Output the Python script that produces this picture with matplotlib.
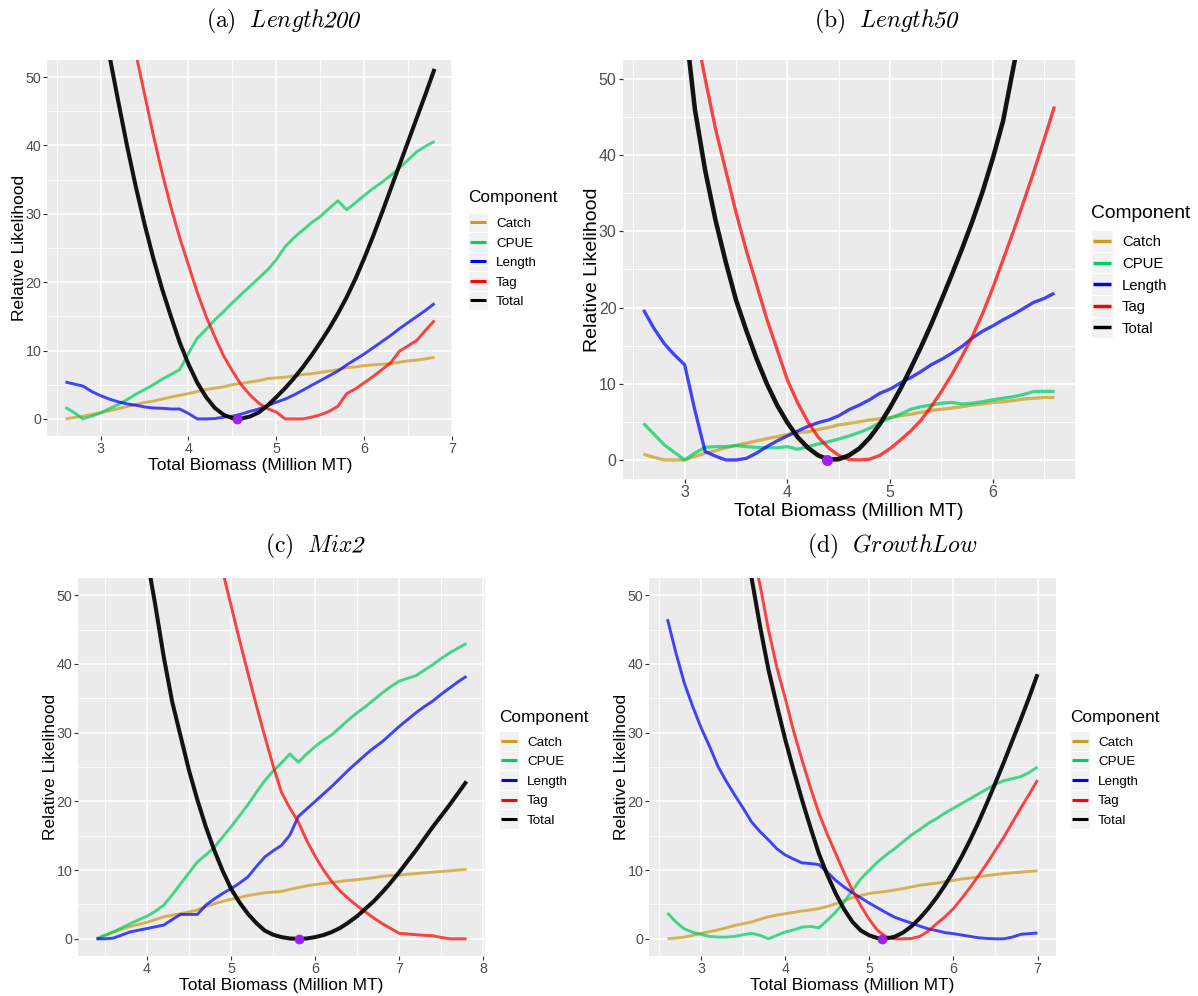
import numpy as np
import matplotlib
matplotlib.use("Agg")
import matplotlib.pyplot as plt
from matplotlib.patches import Rectangle, PathPatch
from matplotlib.lines import Line2D
from matplotlib.ticker import MultipleLocator
from matplotlib.textpath import TextPath
from matplotlib.font_manager import FontProperties
from matplotlib.transforms import Affine2D

plt.rcParams['font.family'] = ['Liberation Sans', 'DejaVu Sans']
plt.rcParams['mathtext.fontset'] = 'cm'

W, H = 1198, 996

components = ["Catch", "CPUE", "Length", "Tag", "Total"]
colors = {"Catch": "#CD9B1D", "CPUE": "#00CD66", "Length": "#0000FF",
          "Tag": "#FF0000", "Total": "#000000"}

# ---------------- (a) Length200 ----------------
catch_a = [0.0, 0.2, 0.4, 0.65, 0.9, 1.2, 1.5, 1.8, 2.1, 2.4, 2.6, 2.9, 3.2, 3.45, 3.7,
           4.0, 4.3, 4.5, 4.7, 5.0, 5.2, 5.4, 5.6, 5.9, 6.0, 6.1, 6.3, 6.5, 6.6, 6.8,
           7.0, 7.2, 7.5, 7.6, 7.8, 7.9, 8.0, 8.1, 8.3, 8.5, 8.6, 8.8, 9.0]
cpue_a = [1.7, 0.9, 0.0, 0.4, 0.9, 1.5, 2.1, 2.8, 3.6, 4.3, 5.0, 5.8, 6.5, 7.2, 9.6,
          11.8, 13.1, 14.5, 15.7, 17.0, 18.2, 19.4, 20.6, 21.8, 23.3, 25.2, 26.5, 27.6, 28.7, 29.6,
          30.8, 31.9, 30.6, 31.6, 32.7, 33.7, 34.6, 35.6, 36.7, 37.9, 39.1, 39.9, 40.6]
length_a = [5.4, 5.1, 4.8, 4.0, 3.4, 2.9, 2.5, 2.2, 2.0, 1.75, 1.6, 1.55, 1.45, 1.45, 0.8,
            0.0, 0.0, 0.05, 0.25, 0.4, 0.7, 1.1, 1.45, 1.95, 2.45, 2.9, 3.5, 4.2, 4.9, 5.6,
            6.3, 7.0, 7.9, 8.7, 9.5, 10.4, 11.3, 12.2, 13.2, 14.1, 15.0, 15.9, 16.9]
tag_a = [60.0, 53.5, 47.5, 41.5, 36.0, 31.0, 26.5, 22.5, 18.5, 15.0, 12.0, 9.2, 7.0, 5.0, 3.5,
         2.3, 1.5, 1.0, 0.0, 0.0, 0.0, 0.25, 0.6, 1.1, 1.85, 3.7, 4.4, 5.3, 6.2, 7.2,
         8.2, 9.9, 10.7, 11.5, 13.0, 14.4]
total_a = [62.0, 53.2, 46.5, 40.0, 34.0, 28.5, 23.5, 19.0, 15.0, 11.2, 8.0, 5.3, 3.2, 1.6, 0.6,
           0.1, 0.05, 0.35, 0.95, 1.95, 3.2, 4.5, 5.95, 7.55, 9.3, 11.2, 13.2, 15.4, 17.8, 20.5,
           23.5, 26.7, 30.1, 33.6, 37.1, 40.6, 44.1, 47.6, 51.2]

# ---------------- (b) Length50 ----------------
catch_b = [0.75, 0.35, 0.0, 0.0, 0.0, 0.45, 0.9, 1.2, 1.6, 1.9, 2.2, 2.5, 2.8, 3.05, 3.35,
           3.6, 3.7, 4.0, 4.25, 4.6, 4.8, 5.0, 5.25, 5.4, 5.55, 5.8, 6.0, 6.25, 6.5, 6.65,
           6.8, 7.0, 7.2, 7.35, 7.55, 7.65, 7.8, 8.0, 8.1, 8.2, 8.2]
cpue_b = [4.8, 3.4, 2.0, 1.0, 0.0, 0.9, 1.65, 1.75, 1.75, 1.9, 1.75, 1.65, 1.6, 1.6, 1.75,
          1.4, 1.75, 2.1, 2.4, 2.75, 3.15, 3.6, 4.15, 4.9, 5.5, 6.0, 6.65, 7.0, 7.2, 7.45,
          7.55, 7.35, 7.45, 7.65, 7.9, 8.1, 8.3, 8.6, 9.0, 9.0, 9.0]
length_b = [19.7, 17.3, 15.3, 13.8, 12.5, 6.5, 1.1, 0.5, 0.0, 0.0, 0.2, 0.9, 1.75, 2.5, 3.15,
            3.8, 4.4, 4.9, 5.25, 5.8, 6.6, 7.2, 7.9, 8.75, 9.3, 10.1, 10.8, 11.6, 12.5, 13.2,
            14.0, 14.9, 16.0, 16.9, 17.6, 18.4, 19.1, 19.9, 20.7, 21.2, 21.9]
tag_b = [57.0, 50.0, 43.5, 38.0, 32.5, 27.5, 23.0, 18.5, 14.5, 10.5, 7.5, 5.0, 3.0, 1.6, 0.6,
         0.05, 0.0, 0.1, 0.6, 1.5, 2.6, 3.8, 5.2, 7.0, 9.0, 11.2, 13.6, 16.2, 19.2, 22.6,
         26.3, 30.0, 33.9, 37.9, 42.1, 46.4]
total_b = [58.0, 46.0, 38.0, 31.5, 26.0, 21.0, 17.0, 13.3, 10.0, 7.2, 4.9, 3.0, 1.6, 0.6, 0.05,
           0.1, 0.6, 1.5, 2.9, 4.7, 6.9, 9.3, 12.0, 14.8, 17.8, 21.0, 24.3, 27.7, 31.3, 35.2,
           39.6, 44.5, 51.5, 58.5]

# ---------------- (c) Mix2 ----------------
catch_c = [0.0, 0.5, 1.0, 1.4, 1.8, 2.1, 2.4, 2.8, 3.2, 3.45, 3.65, 3.9, 4.2, 4.7, 5.1,
           5.45, 5.75, 6.0, 6.3, 6.5, 6.7, 6.8, 6.9, 7.2, 7.45, 7.7, 7.9, 8.05, 8.2, 8.35,
           8.5, 8.6, 8.75, 8.9, 9.1, 9.2, 9.25, 9.4, 9.5, 9.6, 9.7, 9.8, 9.9, 10.0, 10.1]
cpue_c = [0.0, 0.5, 1.0, 1.6, 2.2, 2.75, 3.3, 4.0, 4.9, 6.4, 8.0, 9.6, 11.2, 12.2, 13.3,
          14.8, 16.3, 17.9, 19.5, 21.3, 23.0, 24.4, 25.6, 26.9, 25.7, 26.9, 28.0, 28.9, 29.7, 30.8,
          31.9, 32.9, 33.8, 34.8, 35.8, 36.7, 37.5, 37.9, 38.3, 39.1, 39.9, 40.8, 41.6, 42.3, 43.0]
length_c = [0.0, 0.0, 0.1, 0.55, 1.0, 1.25, 1.5, 1.75, 2.0, 2.8, 3.55, 3.55, 3.55, 4.9, 5.8,
            6.6, 7.3, 8.1, 9.0, 10.5, 11.9, 12.8, 13.6, 15.1, 17.8, 18.9, 20.0, 21.1, 22.2, 23.4,
            24.6, 25.7, 26.8, 27.8, 28.7, 29.8, 30.9, 31.9, 32.9, 33.8, 34.6, 35.6, 36.5, 37.4, 38.2]
tag_c = [53.5, 48.5, 43.5, 38.7, 34.0, 29.5, 25.2, 21.3, 19.0, 17.0, 14.3, 12.0, 10.0, 8.3, 6.9,
         5.8, 4.8, 3.9, 3.0, 2.2, 1.5, 0.8, 0.7, 0.6, 0.5, 0.45, 0.2, 0.0, 0.0, 0.0]
total_c = [55.5, 48.5, 41.0, 34.5, 29.5, 24.5, 20.2, 16.3, 12.9, 9.9, 7.3, 5.3, 3.65, 2.3, 1.2,
           0.6, 0.25, 0.05, 0.0, 0.05, 0.25, 0.55, 1.0, 1.6, 2.4, 3.3, 4.4, 5.5, 6.8, 8.2,
           9.7, 11.3, 12.9, 14.6, 16.3, 17.9, 19.5, 21.2, 22.9]

# ---------------- (d) GrowthLow ----------------
catch_d = [0.0, 0.1, 0.25, 0.5, 0.8, 1.05, 1.3, 1.6, 1.95, 2.2, 2.45, 2.85, 3.2, 3.45, 3.65,
           3.85, 4.05, 4.2, 4.4, 4.7, 5.1, 5.55, 6.0, 6.3, 6.6, 6.75, 6.9, 7.1, 7.3, 7.55,
           7.8, 7.95, 8.1, 8.3, 8.5, 8.7, 8.85, 9.0, 9.2, 9.35, 9.5, 9.6, 9.7, 9.8, 9.9]
cpue_d = [3.75, 2.45, 1.45, 0.95, 0.65, 0.35, 0.25, 0.25, 0.35, 0.6, 0.8, 0.5, 0.0, 0.5, 1.0,
          1.3, 1.7, 1.8, 1.6, 2.7, 3.9, 5.35, 7.05, 8.75, 10.0, 11.2, 12.2, 13.1, 14.1, 15.1,
          15.9, 16.8, 17.5, 18.3, 19.0, 19.7, 20.4, 21.1, 21.8, 22.5, 23.0, 23.3, 23.6, 24.2, 25.0]
length_d = [46.5, 41.6, 37.2, 33.8, 30.7, 28.0, 25.1, 22.9, 20.9, 19.0, 17.0, 15.6, 14.4, 13.1, 12.2,
            11.6, 11.05, 10.95, 10.8, 9.7, 8.5, 7.55, 6.7, 5.95, 5.2, 4.5, 3.8, 3.15, 2.7, 2.3,
            1.85, 1.45, 1.2, 0.9, 0.75, 0.55, 0.35, 0.15, 0.05, 0.0, 0.0, 0.25, 0.65, 0.75, 0.85]
tag_d = [57.0, 51.5, 45.0, 39.5, 35.0, 30.2, 26.0, 22.0, 18.3, 15.2, 12.4, 9.6, 7.05, 4.8, 2.8,
         1.2, 0.3, 0.0, 0.0, 0.05, 0.35, 1.1, 2.2, 3.2, 4.4, 5.9, 7.5, 9.2, 11.0, 12.9,
         14.8, 16.9, 19.0, 21.0, 23.1]
total_d = [60.0, 52.5, 45.5, 39.2, 34.0, 29.0, 24.5, 20.2, 16.2, 12.4, 9.3, 6.6, 4.3, 2.45, 1.2,
           0.5, 0.1, 0.05, 0.3, 0.9, 1.8, 3.0, 4.4, 6.0, 7.8, 9.8, 12.0, 14.4, 17.0, 19.8,
           22.7, 25.7, 28.8, 31.9, 35.1, 38.5]

# first biomass value (Million MT) of each series; steps of 0.1
starts = {
    "a": {"Catch": 2.6, "CPUE": 2.6, "Length": 2.6, "Tag": 3.3, "Total": 3.0},
    "b": {"Catch": 2.6, "CPUE": 2.6, "Length": 2.6, "Tag": 3.1, "Total": 3.0},
    "c": {"Catch": 3.4, "CPUE": 3.4, "Length": 3.4, "Tag": 4.9, "Total": 4.0},
    "d": {"Catch": 2.6, "CPUE": 2.6, "Length": 2.6, "Tag": 3.6, "Total": 3.5},
}
values = {
    "a": {"Catch": catch_a, "CPUE": cpue_a, "Length": length_a, "Tag": tag_a, "Total": total_a},
    "b": {"Catch": catch_b, "CPUE": cpue_b, "Length": length_b, "Tag": tag_b, "Total": total_b},
    "c": {"Catch": catch_c, "CPUE": cpue_c, "Length": length_c, "Tag": tag_c, "Total": total_c},
    "d": {"Catch": catch_d, "CPUE": cpue_d, "Length": length_d, "Tag": tag_d, "Total": total_d},
}
# biomass range of each run and the minimum of the total likelihood
x_range = {"a": (2.6, 6.8), "b": (2.6, 6.6), "c": (3.4, 7.8), "d": (2.6, 7.0)}
best_x = {"a": 4.55, "b": 4.39, "c": 5.81, "d": 5.15}
# captions: label, scenario name, trailing digits of the name
captions = {"a": ("(a)", "Length", "200"),
            "b": ("(b)", "Length", "50"),
            "c": ("(c)", "Mix", "2"),
            "d": ("(d)", "GrowthLow", "")}

# layout in pixels: panel box (left, top, right, bottom), scale, text anchors
layout = {
    "a": dict(box=(47, 60, 453, 436), s=1.0, xlab_y=470, ylab_x=24.5,
              title=(282.5, 27.5), leg=(468, 202.3, 222.5, 19.5, 19.5, 496)),
    "b": dict(box=(623, 60, 1075, 479), s=1.12, xlab_y=516, ylab_x=597,
              title=(886, 27.5), leg=(1091, 218.3, 241.0, 21.6, 21.7, 1122)),
    "c": dict(box=(78, 578, 485, 956), s=1.0, xlab_y=990, ylab_x=55,
              title=(314.5, 552.5), leg=(499, 721.5, 741.0, 19.5, 19.5, 527)),
    "d": dict(box=(649, 578, 1056, 956), s=1.0, xlab_y=990, ylab_x=626,
              title=(892, 552.5), leg=(1070, 721.5, 741.0, 19.5, 19.5, 1098)),
}

TITLE_PT = 17


def fx(px):
    return px / W


def fy(py):
    return 1 - py / H


def em(pt):
    return pt * 100 / 72


fig = plt.figure(figsize=(W / 100, H / 100), dpi=100)
renderer = fig.canvas.get_renderer()
digit_font = FontProperties(family="cmr10")


def draw_caption(cx, base_y, label, name, digits):
    """Caption in Computer Modern: upright label, italic scenario name."""
    t = fig.text(0, fy(base_y), r"$\mathrm{%s}\ \ \mathit{%s}$" % (label, name),
                 fontsize=TITLE_PT, ha="left", va="baseline")
    w_main = t.get_window_extent(renderer).width
    path = None
    w_dig = 0.0
    gap = -2.5
    if digits:
        path = TextPath((0, 0), digits, size=em(TITLE_PT), prop=digit_font)
        w_dig = path.get_extents().x1 + 2.0
    else:
        gap = 0.0
    left = cx - (w_main + gap + w_dig) / 2
    t.set_x(fx(left))
    if path is not None:
        tr = Affine2D().skew_deg(14, 0).translate(left + w_main + gap, H - base_y)
        fig.add_artist(PathPatch(path, transform=tr, facecolor="black",
                                 edgecolor="none"))


for key in ["a", "b", "c", "d"]:
    L = layout[key]
    s = L["s"]
    l, t, r, b = L["box"]
    ax = fig.add_axes([fx(l), fy(b), (r - l) / W, (b - t) / H])
    ax.set_facecolor("#EBEBEB")
    for sp in ax.spines.values():
        sp.set_visible(False)

    x0, x1 = x_range[key]
    pad = 0.05 * (x1 - x0)
    ax.set_xlim(x0 - pad, x1 + pad)
    ax.set_ylim(-2.5, 52.5)
    ax.xaxis.set_major_locator(MultipleLocator(1))
    ax.xaxis.set_minor_locator(MultipleLocator(0.5))
    ax.yaxis.set_major_locator(MultipleLocator(10))
    ax.yaxis.set_minor_locator(MultipleLocator(5))
    ax.grid(which="major", color="white", lw=1.1 * s)
    ax.grid(which="minor", color="white", lw=0.55 * s)
    ax.set_axisbelow(True)
    ax.tick_params(which="major", length=2.7 * s, width=0.8 * s, color="#333333",
                   labelsize=10.3 * s, labelcolor="#4D4D4D", pad=1.4 * s)
    ax.tick_params(which="minor", length=0)

    for comp in components:
        vals = values[key][comp]
        xs = np.round(starts[key][comp] + 0.1 * np.arange(len(vals)), 1)
        if comp == "Total":
            ax.plot(xs, vals, color=colors[comp], lw=2.9 * s, alpha=0.92,
                    solid_capstyle="butt", solid_joinstyle="round", zorder=3)
        else:
            ax.plot(xs, vals, color=colors[comp], lw=2.1 * s, alpha=0.72,
                    solid_capstyle="butt", solid_joinstyle="round", zorder=2)
    ax.scatter([best_x[key]], [0], s=50 * s * s, color="#A020F0", zorder=5,
               linewidths=0)

    # axis titles
    fs_ax = 12.5 * s
    fig.text(fx((l + r) / 2), fy(L["xlab_y"]), "Total Biomass (Million MT)",
             fontsize=fs_ax, ha="center", va="baseline")
    fig.text(fx(L["ylab_x"]), fy((t + b) / 2), "Relative Likelihood",
             fontsize=fs_ax, ha="center", va="baseline", rotation=90,
             rotation_mode="anchor")

    # panel caption
    tx, ty = L["title"]
    draw_caption(tx, ty, *captions[key])

    # legend
    lx, title_base, first_y, step, key_w, text_x = L["leg"]
    fig.text(fx(lx), fy(title_base), "Component", fontsize=12.4 * s,
             ha="left", va="baseline")
    fs_lab = 9.6 * s
    for i, comp in enumerate(components):
        cy = first_y + i * step
        fig.add_artist(Rectangle((fx(lx), fy(cy + step / 2)), key_w / W, step / H,
                                 transform=fig.transFigure, facecolor="#F2F2F2",
                                 edgecolor="white", lw=0.8))
        fig.add_artist(Line2D([fx(lx + 1.5), fx(lx + key_w - 1.5)], [fy(cy), fy(cy)],
                              transform=fig.transFigure, color=colors[comp],
                              lw=2.2 * s, solid_capstyle="butt"))
        fig.text(fx(text_x), fy(cy + 0.358 * em(fs_lab)), comp, fontsize=fs_lab,
                 ha="left", va="baseline")

fig.savefig("out.png", dpi=100)
